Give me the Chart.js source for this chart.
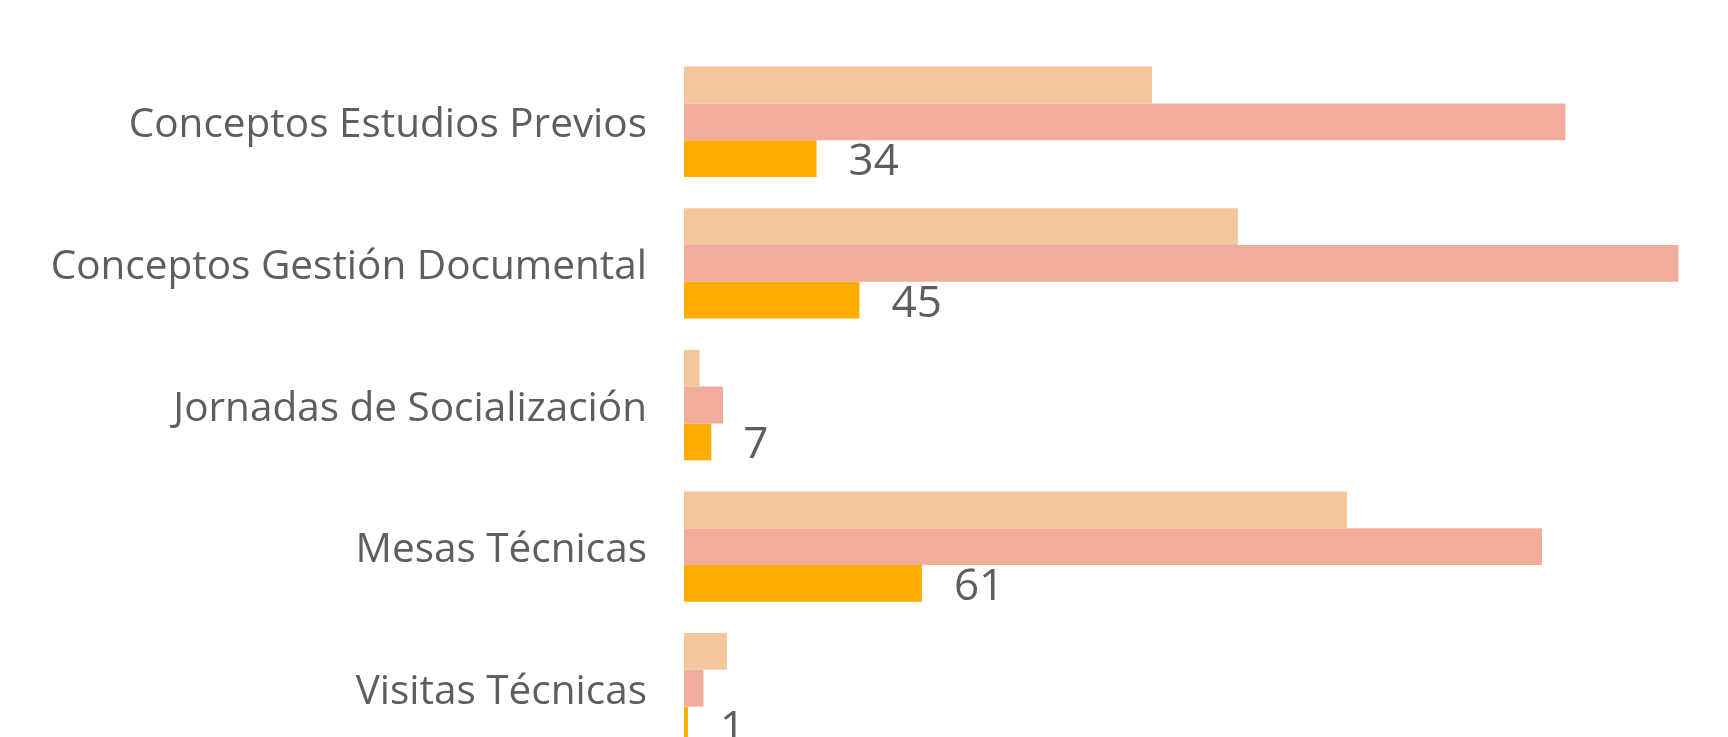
<!DOCTYPE html>
<html lang="es">
<head>
<meta charset="utf-8">
<title>Actividades</title>
<script src="https://cdn.jsdelivr.net/npm/chart.js@4/dist/chart.umd.min.js"></script>
<style>
  html, body { margin: 0; padding: 0; background: #fff; overflow: hidden; }
  #chart { display: block; }
</style>
</head>
<body>
<canvas id="chart" width="1728" height="759"></canvas>
<script>
'use strict';

// ─── Data ─────────────────────────────────────────────────────────────────────

const categories = [
  'Conceptos Estudios Previos',
  'Conceptos Gestión Documental',
  'Jornadas de Socialización',
  'Mesas Técnicas',
  'Visitas Técnicas',
];

const seriesPeach  = [120, 142, 4, 170, 11];
const seriesSalmon = [226, 255, 10, 220, 5];
const seriesOrange = [34, 45, 7, 61, 1];

const PEACH  = '#F4C69B';
const SALMON = '#F2AC9B';
const ORANGE = '#FFAC00';
const TEXT   = '#605E5C';
const FONT   = "'Open Sans', 'Noto Sans', sans-serif";

// ─── Value labels on the last series ──────────────────────────────────────────

const valueLabels = {
  id: 'valueLabels',
  afterDatasetsDraw(chart) {
    const { ctx } = chart;
    const meta = chart.getDatasetMeta(2);
    ctx.save();
    ctx.font = `44px ${FONT}`;
    ctx.fillStyle = TEXT;
    ctx.textAlign = 'left';
    ctx.textBaseline = 'middle';
    meta.data.forEach((bar, i) => {
      ctx.fillText(String(seriesOrange[i]), bar.x + 32, bar.y + 4);
    });
    ctx.restore();
  },
};

const bar = (label, data, color) => ({
  label,
  data,
  backgroundColor: color,
  borderWidth: 0,
  barPercentage: 1,
  categoryPercentage: 0.78,
});

new Chart(document.getElementById('chart'), {
  type: 'bar',
  data: {
    labels: categories,
    datasets: [
      bar('Serie 1', seriesPeach, PEACH),
      bar('Serie 2', seriesSalmon, SALMON),
      bar('Serie 3', seriesOrange, ORANGE),
    ],
  },
  options: {
    indexAxis: 'y',
    animation: false,
    responsive: false,
    layout: { padding: { top: 51, right: 30, bottom: 0, left: 0 } },
    plugins: {
      legend: { display: false },
      tooltip: { enabled: false },
    },
    scales: {
      x: { display: false, min: 0, max: 260 },
      y: {
        grid: { display: false },
        border: { display: false },
        ticks: {
          color: TEXT,
          padding: 29,
          labelOffset: 4,
          font: { family: FONT, size: 40.5 },
        },
        // fixed axis width; no extra room above/below for the labels
        afterFit: scale => {
          scale.width = 684;
          scale.paddingTop = 0;
          scale.paddingBottom = 0;
        },
      },
    },
  },
  plugins: [valueLabels],
});
</script>
</body>
</html>
